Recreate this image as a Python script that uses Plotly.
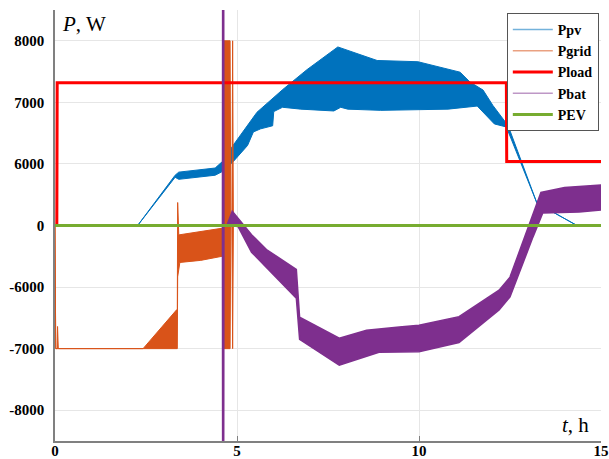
import plotly.graph_objects as go

# ---------------- data (values in W, time in h) ----------------
# Ppv envelope (upper / lower)
ppv_t_up = [2.27, 3.30, 3.40, 4.40, 4.62, 4.89, 5.55, 6.26, 6.92, 7.77, 8.85, 9.97, 11.13, 11.40, 11.76, 12.03, 12.45, 13.24, 14.34]
ppv_up   = [0, 4900, 5200, 5600, 6050, 6300, 6840, 7210, 7530, 7900, 7680, 7660, 7490, 7330, 7200, 6950, 6620, 2180, 0]
ppv_t_lo = [2.27, 3.30, 3.40, 4.40, 4.62, 4.90, 5.29, 5.45, 5.65, 5.98, 6.01, 6.25, 6.75, 7.66, 7.85, 8.04, 8.95, 10.8, 11.6, 12.07, 12.40, 13.24, 14.34]
ppv_lo   = [0, 4700, 4500, 4900, 5300, 6040, 6300, 6520, 6570, 6620, 6850, 6920, 6890, 6860, 6920, 6890, 6870, 6890, 6940, 6650, 6600, 2180, 0]

# Pgrid envelope
pgrid_t_up = [0.0, 0.02, 0.06, 0.07, 0.09, 2.42, 3.34, 3.36, 3.37, 3.40, 3.43, 4.00, 4.59, 4.62, 4.64, 4.81, 4.83, 4.86, 4.88, 4.90, 15.0]
pgrid_up   = [0, -7000, -7000, -6640, -7000, -7000, -6370, -6370, 2240, -900, -900, -600, -250, -250, 8000, 8000, 0, 0, 8000, 0, 0]
pgrid_t_lo = [0.0, 0.02, 0.06, 0.07, 0.09, 2.42, 3.34, 3.36, 3.37, 3.40, 3.43, 4.00, 4.59, 4.62, 4.64, 4.81, 4.83, 4.86, 4.88, 4.90, 15.0]
pgrid_lo   = [0, -7000, -7000, -7000, -7000, -7000, -7000, -7000, -5000, -4200, -3600, -3400, -3000, -3000, -7000, -7000, 0, 0, -7000, 0, 0]

# Pload
pload_t = [0.0, 0.05, 0.06, 12.40, 12.41, 15.0]
pload   = [0, 0, 7320, 7320, 6040, 6040]

# Pbat envelope
pbat_t_up = [0.0, 4.60, 4.62, 4.64, 4.72, 4.87, 5.40, 5.81, 6.63, 6.72, 7.81, 8.56, 9.46, 10.0, 11.1, 12.2, 12.5, 13.35, 14.0, 15.0]
pbat_up   = [0, 0, 20000, 0, 0, 1400, -900, -2340, -4290, -6490, -6830, -6700, -6650, -6620, -6480, -6050, -5030, 3220, 3700, 3940]
pbat_t_lo = [0.0, 4.60, 4.62, 4.64, 4.72, 5.03, 5.40, 6.63, 6.72, 7.81, 8.90, 10.0, 11.1, 12.2, 12.5, 13.13, 13.40, 14.4, 15.0]
pbat_lo   = [0, 0, -20000, 0, 0, -100, -2600, -6180, -6850, -7270, -7060, -7050, -6900, -6370, -6160, -1130, 1210, 1310, 1500]

# PEV
pev_t = [0.0, 15.0]
pev   = [0, 0]

# axis ticks (broken scale)
y_tick_labels = ["-8000", "-7000", "-6000", "0", "6000", "7000", "8000"]
x_tick_vals = [0, 5, 10, 15]

C_PV, C_GRID, C_LOAD, C_BAT, C_EV = "#0072BD", "#D95319", "#FF0000", "#7E2F8E", "#77AC30"


def to_axis(w):
    s = 1 if w >= 0 else -1
    a = abs(w)
    v = a / 6000 if a <= 6000 else 1 + (a - 6000) / 1000
    return s * v


def band(t_up, up, t_lo, lo):
    x = list(t_up) + list(t_lo)[::-1]
    y = [to_axis(v) for v in up] + [to_axis(v) for v in lo][::-1]
    return x, y


fig = go.Figure()

x, y = band(ppv_t_up, ppv_up, ppv_t_lo, ppv_lo)
fig.add_trace(go.Scatter(x=x, y=y, mode="lines", fill="toself", fillcolor=C_PV,
                         line=dict(color=C_PV, width=1), showlegend=False, hoverinfo="skip"))
x, y = band(pgrid_t_up, pgrid_up, pgrid_t_lo, pgrid_lo)
fig.add_trace(go.Scatter(x=x, y=y, mode="lines", fill="toself", fillcolor=C_GRID,
                         line=dict(color=C_GRID, width=1), showlegend=False, hoverinfo="skip"))
fig.add_trace(go.Scatter(x=pload_t, y=[to_axis(v) for v in pload], mode="lines",
                         line=dict(color=C_LOAD, width=3), showlegend=False))
x, y = band(pbat_t_up, pbat_up, pbat_t_lo, pbat_lo)
fig.add_trace(go.Scatter(x=x, y=y, mode="lines", fill="toself", fillcolor=C_BAT,
                         line=dict(color=C_BAT, width=1.5), showlegend=False, hoverinfo="skip"))
fig.add_trace(go.Scatter(x=pev_t, y=[to_axis(v) for v in pev], mode="lines",
                         line=dict(color=C_EV, width=3), showlegend=False))

# legend entries
for name, col, w in [("Ppv", "rgba(0,114,189,0.55)", 1.5), ("Pgrid", "rgba(217,83,25,0.55)", 1.5),
                     ("Pload", C_LOAD, 3), ("Pbat", "rgba(126,47,142,0.5)", 1.5), ("PEV", C_EV, 3)]:
    fig.add_trace(go.Scatter(x=[None], y=[None], mode="lines", name=name,
                             line=dict(color=col, width=w)))

fig.update_layout(
    width=609, height=459,
    margin=dict(l=55, r=8, t=10, b=18),
    paper_bgcolor="white", plot_bgcolor="white",
    font=dict(family="Liberation Serif", color="black"),
    legend=dict(x=0.996, y=0.993, xanchor="right", yanchor="top",
                bgcolor="white", bordercolor="#555555", borderwidth=1,
                font=dict(family="Liberation Serif", size=14, color="black", weight="bold"),
                tracegroupgap=0, itemwidth=40),
    xaxis=dict(range=[0, 15], tickvals=x_tick_vals, ticktext=[str(v) for v in x_tick_vals],
               showgrid=True, gridcolor="#e6e6e6", gridwidth=1, zeroline=False,
               showline=True, linecolor="#808080", linewidth=1.5, automargin=False,
               ticks="inside", ticklen=5, tickcolor="#808080", ticklabelstandoff=-5,
               tickfont=dict(family="Liberation Serif", size=15, weight="bold")),
    yaxis=dict(range=[-3.5, 3.5], tickvals=[-3, -2, -1, 0, 1, 2, 3], ticktext=y_tick_labels,
               showgrid=True, gridcolor="#e6e6e6", gridwidth=1, zeroline=False,
               showline=True, linecolor="#808080", linewidth=1.5, automargin=False,
               ticks="", ticklabelstandoff=6,
               tickfont=dict(family="Liberation Serif", size=15, weight="bold")),
    annotations=[
        dict(text="<i>P</i>, W", xref="paper", yref="paper", x=0.01, y=1.0,
             xanchor="left", yanchor="top", showarrow=False,
             font=dict(family="Liberation Serif", size=21, color="black")),
        dict(text="<i>t</i>, h", xref="paper", yref="paper", x=0.982, y=0.0,
             xanchor="right", yanchor="bottom", showarrow=False, yshift=2,
             font=dict(family="Liberation Serif", size=21, color="black")),
    ],
)

fig.write_html("out.html")
